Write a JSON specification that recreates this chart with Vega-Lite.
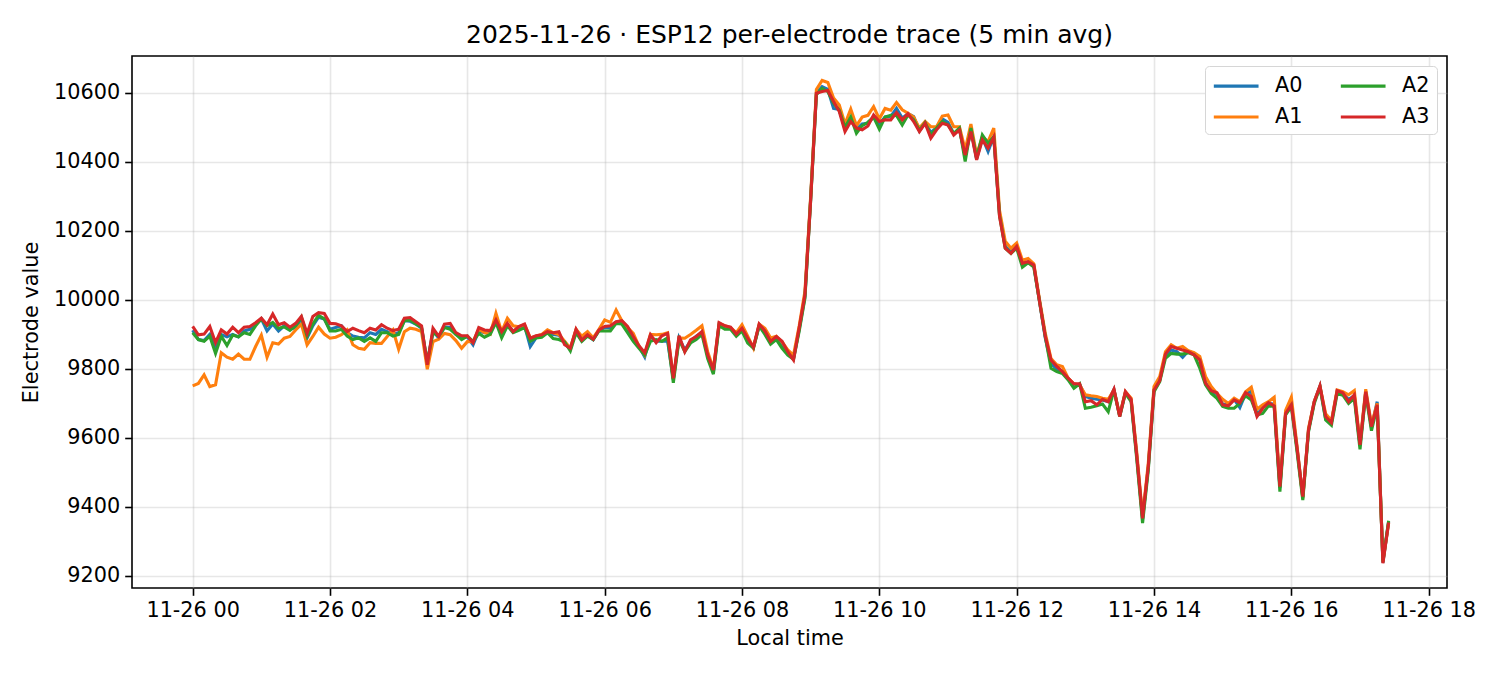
{
  "$schema": "https://vega.github.io/schema/vega-lite/v6.json",
  "autosize": "none",
  "width": 1315,
  "height": 532,
  "padding": {"left": 132, "top": 56, "right": 53, "bottom": 87},
  "background": "white",
  "title": {"text": "2025-11-26 · ESP12 per-electrode trace (5 min avg)", "fontSize": 25, "font": "DejaVu Sans", "fontWeight": "normal", "color": "#000", "anchor": "middle", "offset": 8},
  "config": {
    "font": "DejaVu Sans",
    "view": {"stroke": "#000", "strokeWidth": 1.6},
    "axis": {"labelFont": "DejaVu Sans", "titleFont": "DejaVu Sans", "labelFontSize": 20.8, "titleFontSize": 20.8, "titleFontWeight": "normal", "labelColor": "#000", "titleColor": "#000", "tickColor": "#000", "tickSize": 7.3, "tickWidth": 1.6, "domain": false, "gridColor": "#b0b0b0", "gridOpacity": 0.3, "gridWidth": 1.6},
    "legend": {"labelFont": "DejaVu Sans", "labelFontSize": 20.8, "labelColor": "#000"}
  },
  "data": {"values": [
    {"t":"2025-11-26T00:00Z","A0":9912,"A1":9751,"A2":9905,"A3":9923},
    {"t":"2025-11-26T00:05Z","A0":9885,"A1":9758,"A2":9885,"A3":9899},
    {"t":"2025-11-26T00:10Z","A0":9882,"A1":9783,"A2":9880,"A3":9901},
    {"t":"2025-11-26T00:15Z","A0":9900,"A1":9749,"A2":9895,"A3":9923},
    {"t":"2025-11-26T00:20Z","A0":9862,"A1":9754,"A2":9845,"A3":9876},
    {"t":"2025-11-26T00:25Z","A0":9900,"A1":9847,"A2":9895,"A3":9913},
    {"t":"2025-11-26T00:30Z","A0":9893,"A1":9834,"A2":9868,"A3":9901},
    {"t":"2025-11-26T00:35Z","A0":9900,"A1":9828,"A2":9898,"A3":9921},
    {"t":"2025-11-26T00:40Z","A0":9893,"A1":9843,"A2":9893,"A3":9905},
    {"t":"2025-11-26T00:45Z","A0":9910,"A1":9828,"A2":9905,"A3":9921},
    {"t":"2025-11-26T00:50Z","A0":9915,"A1":9828,"A2":9900,"A3":9923},
    {"t":"2025-11-26T00:55Z","A0":9930,"A1":9865,"A2":9925,"A3":9934},
    {"t":"2025-11-26T01:00Z","A0":9945,"A1":9898,"A2":9945,"A3":9947},
    {"t":"2025-11-26T01:05Z","A0":9910,"A1":9834,"A2":9925,"A3":9928},
    {"t":"2025-11-26T01:10Z","A0":9930,"A1":9876,"A2":9935,"A3":9959},
    {"t":"2025-11-26T01:15Z","A0":9910,"A1":9872,"A2":9918,"A3":9928},
    {"t":"2025-11-26T01:20Z","A0":9925,"A1":9889,"A2":9922,"A3":9934},
    {"t":"2025-11-26T01:25Z","A0":9915,"A1":9894,"A2":9912,"A3":9921},
    {"t":"2025-11-26T01:30Z","A0":9920,"A1":9913,"A2":9925,"A3":9932},
    {"t":"2025-11-26T01:35Z","A0":9945,"A1":9930,"A2":9950,"A3":9952},
    {"t":"2025-11-26T01:40Z","A0":9890,"A1":9870,"A2":9895,"A3":9903},
    {"t":"2025-11-26T01:45Z","A0":9925,"A1":9894,"A2":9930,"A3":9952},
    {"t":"2025-11-26T01:50Z","A0":9950,"A1":9921,"A2":9955,"A3":9963},
    {"t":"2025-11-26T01:55Z","A0":9945,"A1":9901,"A2":9945,"A3":9961},
    {"t":"2025-11-26T02:00Z","A0":9915,"A1":9889,"A2":9910,"A3":9932},
    {"t":"2025-11-26T02:05Z","A0":9920,"A1":9892,"A2":9910,"A3":9931},
    {"t":"2025-11-26T02:10Z","A0":9925,"A1":9899,"A2":9915,"A3":9925},
    {"t":"2025-11-26T02:15Z","A0":9905,"A1":9913,"A2":9895,"A3":9908},
    {"t":"2025-11-26T02:20Z","A0":9895,"A1":9870,"A2":9885,"A3":9918},
    {"t":"2025-11-26T02:25Z","A0":9892,"A1":9860,"A2":9890,"A3":9911},
    {"t":"2025-11-26T02:30Z","A0":9890,"A1":9857,"A2":9880,"A3":9905},
    {"t":"2025-11-26T02:35Z","A0":9905,"A1":9876,"A2":9890,"A3":9918},
    {"t":"2025-11-26T02:40Z","A0":9900,"A1":9874,"A2":9880,"A3":9913},
    {"t":"2025-11-26T02:45Z","A0":9915,"A1":9874,"A2":9905,"A3":9928},
    {"t":"2025-11-26T02:50Z","A0":9908,"A1":9894,"A2":9905,"A3":9918},
    {"t":"2025-11-26T02:55Z","A0":9900,"A1":9913,"A2":9895,"A3":9911},
    {"t":"2025-11-26T03:00Z","A0":9905,"A1":9857,"A2":9900,"A3":9915},
    {"t":"2025-11-26T03:05Z","A0":9940,"A1":9908,"A2":9940,"A3":9947},
    {"t":"2025-11-26T03:10Z","A0":9938,"A1":9918,"A2":9942,"A3":9949},
    {"t":"2025-11-26T03:15Z","A0":9930,"A1":9915,"A2":9930,"A3":9937},
    {"t":"2025-11-26T03:20Z","A0":9918,"A1":9908,"A2":9920,"A3":9925},
    {"t":"2025-11-26T03:25Z","A0":9815,"A1":9799,"A2":9820,"A3":9812},
    {"t":"2025-11-26T03:30Z","A0":9910,"A1":9879,"A2":9905,"A3":9918},
    {"t":"2025-11-26T03:35Z","A0":9890,"A1":9886,"A2":9895,"A3":9894},
    {"t":"2025-11-26T03:40Z","A0":9922,"A1":9903,"A2":9920,"A3":9930},
    {"t":"2025-11-26T03:45Z","A0":9920,"A1":9899,"A2":9915,"A3":9932},
    {"t":"2025-11-26T03:50Z","A0":9900,"A1":9882,"A2":9900,"A3":9905},
    {"t":"2025-11-26T03:55Z","A0":9890,"A1":9860,"A2":9885,"A3":9896},
    {"t":"2025-11-26T04:00Z","A0":9893,"A1":9879,"A2":9895,"A3":9896},
    {"t":"2025-11-26T04:05Z","A0":9870,"A1":9879,"A2":9880,"A3":9876},
    {"t":"2025-11-26T04:10Z","A0":9910,"A1":9915,"A2":9903,"A3":9920},
    {"t":"2025-11-26T04:15Z","A0":9905,"A1":9905,"A2":9892,"A3":9913},
    {"t":"2025-11-26T04:20Z","A0":9905,"A1":9900,"A2":9900,"A3":9911},
    {"t":"2025-11-26T04:25Z","A0":9938,"A1":9961,"A2":9935,"A3":9942},
    {"t":"2025-11-26T04:30Z","A0":9900,"A1":9908,"A2":9890,"A3":9908},
    {"t":"2025-11-26T04:35Z","A0":9928,"A1":9947,"A2":9925,"A3":9932},
    {"t":"2025-11-26T04:40Z","A0":9910,"A1":9925,"A2":9905,"A3":9908},
    {"t":"2025-11-26T04:45Z","A0":9918,"A1":9922,"A2":9912,"A3":9923},
    {"t":"2025-11-26T04:50Z","A0":9925,"A1":9928,"A2":9920,"A3":9930},
    {"t":"2025-11-26T04:55Z","A0":9865,"A1":9890,"A2":9880,"A3":9889},
    {"t":"2025-11-26T05:00Z","A0":9890,"A1":9895,"A2":9890,"A3":9896},
    {"t":"2025-11-26T05:05Z","A0":9895,"A1":9900,"A2":9892,"A3":9899},
    {"t":"2025-11-26T05:10Z","A0":9905,"A1":9913,"A2":9905,"A3":9908},
    {"t":"2025-11-26T05:15Z","A0":9900,"A1":9905,"A2":9888,"A3":9905},
    {"t":"2025-11-26T05:20Z","A0":9898,"A1":9900,"A2":9885,"A3":9908},
    {"t":"2025-11-26T05:25Z","A0":9875,"A1":9880,"A2":9878,"A3":9870},
    {"t":"2025-11-26T05:30Z","A0":9857,"A1":9860,"A2":9852,"A3":9860},
    {"t":"2025-11-26T05:35Z","A0":9912,"A1":9915,"A2":9905,"A3":9915},
    {"t":"2025-11-26T05:40Z","A0":9882,"A1":9895,"A2":9880,"A3":9884},
    {"t":"2025-11-26T05:45Z","A0":9898,"A1":9908,"A2":9895,"A3":9899},
    {"t":"2025-11-26T05:50Z","A0":9885,"A1":9890,"A2":9885,"A3":9886},
    {"t":"2025-11-26T05:55Z","A0":9912,"A1":9915,"A2":9910,"A3":9913},
    {"t":"2025-11-26T06:00Z","A0":9920,"A1":9942,"A2":9910,"A3":9923},
    {"t":"2025-11-26T06:05Z","A0":9918,"A1":9935,"A2":9910,"A3":9925},
    {"t":"2025-11-26T06:10Z","A0":9935,"A1":9971,"A2":9932,"A3":9937},
    {"t":"2025-11-26T06:15Z","A0":9935,"A1":9940,"A2":9930,"A3":9940},
    {"t":"2025-11-26T06:20Z","A0":9910,"A1":9920,"A2":9905,"A3":9923},
    {"t":"2025-11-26T06:25Z","A0":9890,"A1":9903,"A2":9880,"A3":9894},
    {"t":"2025-11-26T06:30Z","A0":9865,"A1":9865,"A2":9860,"A3":9867},
    {"t":"2025-11-26T06:35Z","A0":9835,"A1":9840,"A2":9840,"A3":9847},
    {"t":"2025-11-26T06:40Z","A0":9895,"A1":9900,"A2":9880,"A3":9899},
    {"t":"2025-11-26T06:45Z","A0":9880,"A1":9899,"A2":9885,"A3":9876},
    {"t":"2025-11-26T06:50Z","A0":9880,"A1":9900,"A2":9880,"A3":9896},
    {"t":"2025-11-26T06:55Z","A0":9880,"A1":9905,"A2":9890,"A3":9903},
    {"t":"2025-11-26T07:00Z","A0":9770,"A1":9770,"A2":9760,"A3":9773},
    {"t":"2025-11-26T07:05Z","A0":9890,"A1":9890,"A2":9885,"A3":9896},
    {"t":"2025-11-26T07:10Z","A0":9855,"A1":9889,"A2":9850,"A3":9850},
    {"t":"2025-11-26T07:15Z","A0":9880,"A1":9900,"A2":9875,"A3":9884},
    {"t":"2025-11-26T07:20Z","A0":9895,"A1":9912,"A2":9885,"A3":9894},
    {"t":"2025-11-26T07:25Z","A0":9905,"A1":9925,"A2":9900,"A3":9908},
    {"t":"2025-11-26T07:30Z","A0":9840,"A1":9850,"A2":9830,"A3":9841},
    {"t":"2025-11-26T07:35Z","A0":9790,"A1":9800,"A2":9785,"A3":9797},
    {"t":"2025-11-26T07:40Z","A0":9930,"A1":9932,"A2":9925,"A3":9934},
    {"t":"2025-11-26T07:45Z","A0":9920,"A1":9925,"A2":9915,"A3":9925},
    {"t":"2025-11-26T07:50Z","A0":9918,"A1":9920,"A2":9915,"A3":9921},
    {"t":"2025-11-26T07:55Z","A0":9900,"A1":9905,"A2":9895,"A3":9901},
    {"t":"2025-11-26T08:00Z","A0":9918,"A1":9928,"A2":9910,"A3":9918},
    {"t":"2025-11-26T08:05Z","A0":9880,"A1":9895,"A2":9875,"A3":9889},
    {"t":"2025-11-26T08:10Z","A0":9863,"A1":9860,"A2":9860,"A3":9863},
    {"t":"2025-11-26T08:15Z","A0":9925,"A1":9930,"A2":9925,"A3":9930},
    {"t":"2025-11-26T08:20Z","A0":9905,"A1":9918,"A2":9900,"A3":9910},
    {"t":"2025-11-26T08:25Z","A0":9878,"A1":9890,"A2":9872,"A3":9880},
    {"t":"2025-11-26T08:30Z","A0":9888,"A1":9895,"A2":9885,"A3":9894},
    {"t":"2025-11-26T08:35Z","A0":9868,"A1":9878,"A2":9860,"A3":9880},
    {"t":"2025-11-26T08:40Z","A0":9845,"A1":9855,"A2":9840,"A3":9850},
    {"t":"2025-11-26T08:45Z","A0":9830,"A1":9840,"A2":9828,"A3":9826},
    {"t":"2025-11-26T08:50Z","A0":9915,"A1":9925,"A2":9910,"A3":9920},
    {"t":"2025-11-26T08:55Z","A0":10010,"A1":10025,"A2":10005,"A3":10015},
    {"t":"2025-11-26T09:00Z","A0":10295,"A1":10300,"A2":10290,"A3":10290},
    {"t":"2025-11-26T09:05Z","A0":10600,"A1":10610,"A2":10595,"A3":10599},
    {"t":"2025-11-26T09:10Z","A0":10618,"A1":10636,"A2":10613,"A3":10604},
    {"t":"2025-11-26T09:15Z","A0":10610,"A1":10630,"A2":10604,"A3":10607},
    {"t":"2025-11-26T09:20Z","A0":10555,"A1":10585,"A2":10570,"A3":10575},
    {"t":"2025-11-26T09:25Z","A0":10552,"A1":10565,"A2":10550,"A3":10546},
    {"t":"2025-11-26T09:30Z","A0":10495,"A1":10510,"A2":10500,"A3":10488},
    {"t":"2025-11-26T09:35Z","A0":10525,"A1":10553,"A2":10530,"A3":10517},
    {"t":"2025-11-26T09:40Z","A0":10495,"A1":10505,"A2":10483,"A3":10498},
    {"t":"2025-11-26T09:45Z","A0":10510,"A1":10530,"A2":10505,"A3":10493},
    {"t":"2025-11-26T09:50Z","A0":10512,"A1":10535,"A2":10515,"A3":10504},
    {"t":"2025-11-26T09:55Z","A0":10530,"A1":10560,"A2":10530,"A3":10536},
    {"t":"2025-11-26T10:00Z","A0":10510,"A1":10525,"A2":10495,"A3":10517},
    {"t":"2025-11-26T10:05Z","A0":10530,"A1":10555,"A2":10530,"A3":10522},
    {"t":"2025-11-26T10:10Z","A0":10532,"A1":10550,"A2":10535,"A3":10522},
    {"t":"2025-11-26T10:15Z","A0":10555,"A1":10572,"A2":10535,"A3":10543},
    {"t":"2025-11-26T10:20Z","A0":10527,"A1":10551,"A2":10507,"A3":10522},
    {"t":"2025-11-26T10:25Z","A0":10540,"A1":10541,"A2":10536,"A3":10540},
    {"t":"2025-11-26T10:30Z","A0":10531,"A1":10530,"A2":10522,"A3":10517},
    {"t":"2025-11-26T10:35Z","A0":10490,"A1":10498,"A2":10491,"A3":10488},
    {"t":"2025-11-26T10:40Z","A0":10514,"A1":10517,"A2":10514,"A3":10512},
    {"t":"2025-11-26T10:45Z","A0":10485,"A1":10502,"A2":10478,"A3":10469},
    {"t":"2025-11-26T10:50Z","A0":10500,"A1":10502,"A2":10498,"A3":10493},
    {"t":"2025-11-26T10:55Z","A0":10525,"A1":10533,"A2":10517,"A3":10512},
    {"t":"2025-11-26T11:00Z","A0":10515,"A1":10536,"A2":10507,"A3":10507},
    {"t":"2025-11-26T11:05Z","A0":10482,"A1":10502,"A2":10483,"A3":10478},
    {"t":"2025-11-26T11:10Z","A0":10495,"A1":10502,"A2":10498,"A3":10493},
    {"t":"2025-11-26T11:15Z","A0":10415,"A1":10435,"A2":10401,"A3":10420},
    {"t":"2025-11-26T11:20Z","A0":10495,"A1":10510,"A2":10498,"A3":10488},
    {"t":"2025-11-26T11:25Z","A0":10408,"A1":10420,"A2":10411,"A3":10406},
    {"t":"2025-11-26T11:30Z","A0":10470,"A1":10473,"A2":10478,"A3":10464},
    {"t":"2025-11-26T11:35Z","A0":10430,"A1":10459,"A2":10454,"A3":10440},
    {"t":"2025-11-26T11:40Z","A0":10475,"A1":10498,"A2":10473,"A3":10472},
    {"t":"2025-11-26T11:45Z","A0":10250,"A1":10260,"A2":10245,"A3":10242},
    {"t":"2025-11-26T11:50Z","A0":10155,"A1":10170,"A2":10150,"A3":10150},
    {"t":"2025-11-26T11:55Z","A0":10140,"A1":10150,"A2":10135,"A3":10135},
    {"t":"2025-11-26T12:00Z","A0":10155,"A1":10165,"A2":10150,"A3":10155},
    {"t":"2025-11-26T12:05Z","A0":10105,"A1":10115,"A2":10095,"A3":10106},
    {"t":"2025-11-26T12:10Z","A0":10110,"A1":10120,"A2":10108,"A3":10111},
    {"t":"2025-11-26T12:15Z","A0":10098,"A1":10105,"A2":10095,"A3":10101},
    {"t":"2025-11-26T12:20Z","A0":9995,"A1":10000,"A2":9995,"A3":9995},
    {"t":"2025-11-26T12:25Z","A0":9890,"A1":9903,"A2":9894,"A3":9894},
    {"t":"2025-11-26T12:30Z","A0":9815,"A1":9830,"A2":9802,"A3":9826},
    {"t":"2025-11-26T12:35Z","A0":9800,"A1":9812,"A2":9792,"A3":9807},
    {"t":"2025-11-26T12:40Z","A0":9790,"A1":9807,"A2":9787,"A3":9792},
    {"t":"2025-11-26T12:45Z","A0":9770,"A1":9773,"A2":9768,"A3":9773},
    {"t":"2025-11-26T12:50Z","A0":9750,"A1":9757,"A2":9744,"A3":9757},
    {"t":"2025-11-26T12:55Z","A0":9755,"A1":9754,"A2":9757,"A3":9757},
    {"t":"2025-11-26T13:00Z","A0":9720,"A1":9725,"A2":9686,"A3":9705},
    {"t":"2025-11-26T13:05Z","A0":9715,"A1":9722,"A2":9689,"A3":9708},
    {"t":"2025-11-26T13:10Z","A0":9712,"A1":9720,"A2":9693,"A3":9696},
    {"t":"2025-11-26T13:15Z","A0":9710,"A1":9715,"A2":9698,"A3":9712},
    {"t":"2025-11-26T13:20Z","A0":9705,"A1":9712,"A2":9676,"A3":9705},
    {"t":"2025-11-26T13:25Z","A0":9740,"A1":9739,"A2":9739,"A3":9741},
    {"t":"2025-11-26T13:30Z","A0":9664,"A1":9667,"A2":9662,"A3":9662},
    {"t":"2025-11-26T13:35Z","A0":9732,"A1":9734,"A2":9729,"A3":9734},
    {"t":"2025-11-26T13:40Z","A0":9710,"A1":9715,"A2":9705,"A3":9712},
    {"t":"2025-11-26T13:45Z","A0":9545,"A1":9556,"A2":9536,"A3":9546},
    {"t":"2025-11-26T13:50Z","A0":9365,"A1":9372,"A2":9353,"A3":9367},
    {"t":"2025-11-26T13:55Z","A0":9515,"A1":9527,"A2":9507,"A3":9517},
    {"t":"2025-11-26T14:00Z","A0":9740,"A1":9749,"A2":9734,"A3":9739},
    {"t":"2025-11-26T14:05Z","A0":9768,"A1":9778,"A2":9763,"A3":9766},
    {"t":"2025-11-26T14:10Z","A0":9840,"A1":9850,"A2":9831,"A3":9843},
    {"t":"2025-11-26T14:15Z","A0":9855,"A1":9870,"A2":9845,"A3":9865},
    {"t":"2025-11-26T14:20Z","A0":9850,"A1":9860,"A2":9843,"A3":9860},
    {"t":"2025-11-26T14:25Z","A0":9834,"A1":9865,"A2":9843,"A3":9855},
    {"t":"2025-11-26T14:30Z","A0":9852,"A1":9853,"A2":9847,"A3":9850},
    {"t":"2025-11-26T14:35Z","A0":9845,"A1":9847,"A2":9841,"A3":9841},
    {"t":"2025-11-26T14:40Z","A0":9830,"A1":9836,"A2":9802,"A3":9826},
    {"t":"2025-11-26T14:45Z","A0":9760,"A1":9778,"A2":9754,"A3":9758},
    {"t":"2025-11-26T14:50Z","A0":9735,"A1":9749,"A2":9729,"A3":9737},
    {"t":"2025-11-26T14:55Z","A0":9725,"A1":9729,"A2":9715,"A3":9731},
    {"t":"2025-11-26T15:00Z","A0":9698,"A1":9712,"A2":9691,"A3":9696},
    {"t":"2025-11-26T15:05Z","A0":9695,"A1":9700,"A2":9686,"A3":9693},
    {"t":"2025-11-26T15:10Z","A0":9712,"A1":9715,"A2":9686,"A3":9710},
    {"t":"2025-11-26T15:15Z","A0":9688,"A1":9705,"A2":9700,"A3":9702},
    {"t":"2025-11-26T15:20Z","A0":9728,"A1":9734,"A2":9722,"A3":9731},
    {"t":"2025-11-26T15:25Z","A0":9735,"A1":9747,"A2":9710,"A3":9720},
    {"t":"2025-11-26T15:30Z","A0":9668,"A1":9683,"A2":9667,"A3":9662},
    {"t":"2025-11-26T15:35Z","A0":9688,"A1":9696,"A2":9671,"A3":9686},
    {"t":"2025-11-26T15:40Z","A0":9700,"A1":9705,"A2":9693,"A3":9702},
    {"t":"2025-11-26T15:45Z","A0":9698,"A1":9718,"A2":9691,"A3":9693},
    {"t":"2025-11-26T15:50Z","A0":9455,"A1":9464,"A2":9444,"A3":9459},
    {"t":"2025-11-26T15:55Z","A0":9672,"A1":9680,"A2":9667,"A3":9671},
    {"t":"2025-11-26T16:00Z","A0":9700,"A1":9718,"A2":9691,"A3":9696},
    {"t":"2025-11-26T16:05Z","A0":9568,"A1":9575,"A2":9560,"A3":9570},
    {"t":"2025-11-26T16:10Z","A0":9428,"A1":9425,"A2":9420,"A3":9430},
    {"t":"2025-11-26T16:15Z","A0":9622,"A1":9628,"A2":9618,"A3":9623},
    {"t":"2025-11-26T16:20Z","A0":9705,"A1":9705,"A2":9700,"A3":9705},
    {"t":"2025-11-26T16:25Z","A0":9750,"A1":9749,"A2":9747,"A3":9751},
    {"t":"2025-11-26T16:30Z","A0":9655,"A1":9670,"A2":9652,"A3":9662},
    {"t":"2025-11-26T16:35Z","A0":9645,"A1":9650,"A2":9637,"A3":9644},
    {"t":"2025-11-26T16:40Z","A0":9735,"A1":9739,"A2":9729,"A3":9737},
    {"t":"2025-11-26T16:45Z","A0":9728,"A1":9734,"A2":9724,"A3":9731},
    {"t":"2025-11-26T16:50Z","A0":9712,"A1":9725,"A2":9700,"A3":9705},
    {"t":"2025-11-26T16:55Z","A0":9722,"A1":9737,"A2":9715,"A3":9725},
    {"t":"2025-11-26T17:00Z","A0":9578,"A1":9585,"A2":9567,"A3":9580},
    {"t":"2025-11-26T17:05Z","A0":9735,"A1":9741,"A2":9729,"A3":9734},
    {"t":"2025-11-26T17:10Z","A0":9630,"A1":9638,"A2":9621,"A3":9633},
    {"t":"2025-11-26T17:15Z","A0":9705,"A1":9700,"A2":9691,"A3":9696},
    {"t":"2025-11-26T17:20Z","A0":9238,"A1":9242,"A2":9242,"A3":9237},
    {"t":"2025-11-26T17:25Z","A0":9357,"A1":9353,"A2":9360,"A3":9355}
  ]},
  "transform": [{"fold": ["A0", "A1", "A2", "A3"], "as": ["ch", "v"]}],
  "mark": {"type": "line", "strokeWidth": 3.1},
  "encoding": {
    "x": {"field": "t", "type": "temporal", "title": "Local time",
      "scale": {"type": "utc", "domain": [1764112020000, 1764180960000], "nice": false},
      "axis": {"format": "%m-%d %H", "values": [1764115200000, 1764122400000, 1764129600000, 1764136800000, 1764144000000, 1764151200000, 1764158400000, 1764165600000, 1764172800000, 1764180000000], "labelPadding": 5, "titlePadding": 8}},
    "y": {"field": "v", "type": "quantitative", "title": "Electrode value",
      "scale": {"domain": [9165, 10707], "nice": false, "zero": false},
      "axis": {"values": [9200, 9400, 9600, 9800, 10000, 10200, 10400, 10600], "format": "d", "labelPadding": 5, "titlePadding": 12}},
    "color": {"field": "ch", "type": "nominal",
      "scale": {"domain": ["A0", "A1", "A2", "A3"], "range": ["#1f77b4", "#ff7f0e", "#2ca02c", "#d62728"]},
      "legend": {"title": null, "orient": "top-right", "offset": 10, "columns": 2, "columnPadding": 31, "rowPadding": 8, "symbolType": "M-1,0L3,0", "symbolSize": 500, "symbolStrokeWidth": 3.1, "labelOffset": 37, "fillColor": "white", "strokeColor": "#d6d6d6", "cornerRadius": 4, "padding": 7}}
  }
}
